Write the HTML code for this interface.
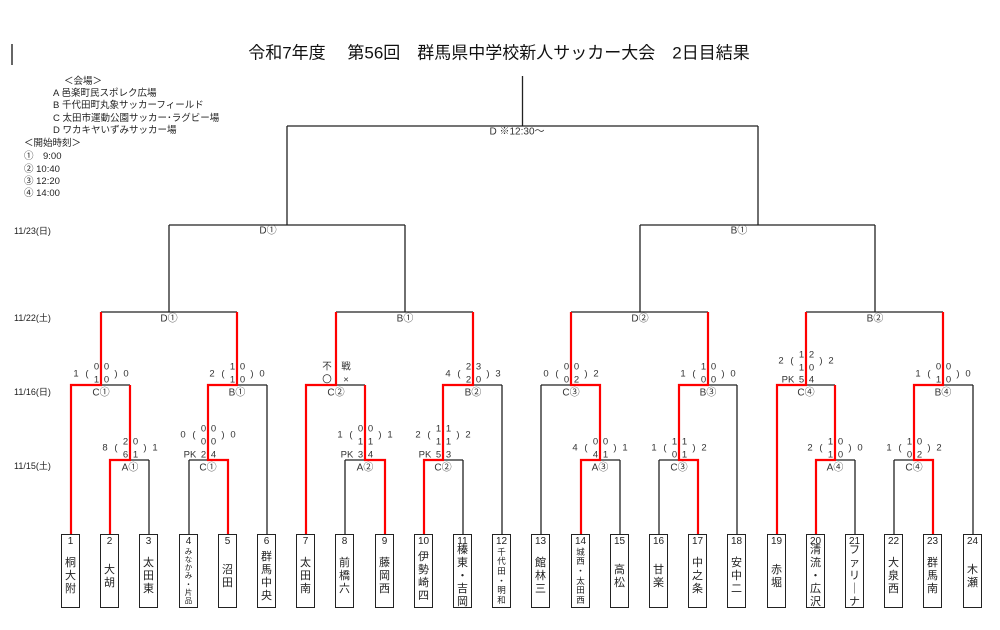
<!DOCTYPE html>
<html><head><meta charset="utf-8"><style>
body{margin:0;background:#fff;width:1000px;height:630px;position:relative;overflow:hidden;font-family:"Liberation Sans","Noto Sans CJK JP",sans-serif;color:#222}
svg{position:absolute;left:0;top:0}
.t{position:absolute;top:534px;width:19px;height:74px;border:1.3px solid #222;box-sizing:border-box;background:#fff}
.t .n{position:absolute;top:1px;left:0;right:0;text-align:center;font-size:10px;line-height:11px}
.t .m{position:absolute;top:13px;bottom:2px;left:0;right:0;display:flex;flex-direction:column;justify-content:center;align-items:center;font-size:11px;line-height:13px}
.t .m.s{font-size:8.5px;line-height:9.6px}
.t .m.xs{font-size:7.5px;line-height:8.2px}
.lg{position:absolute;font-size:9.5px;line-height:12px;white-space:nowrap}
</style></head><body>
<svg width="1000" height="630" font-family="Liberation Sans, Noto Sans CJK JP, sans-serif" font-size="10" fill="#333" text-anchor="middle" dominant-baseline="central">
<line x1="12" y1="44" x2="12" y2="65" stroke="#333" stroke-width="1.5"/>
<text x="499" y="53" font-size="17" fill="#111">令和7年度　 第56回　群馬県中学校新人サッカー大会　2日目結果</text>
<g font-size="9" fill="#222" text-anchor="start">
<text x="14" y="231">11/23(日)</text>
<text x="14" y="318">11/22(土)</text>
<text x="14" y="392">11/16(日)</text>
<text x="14" y="466">11/15(土)</text>
</g>
<g stroke="#222" stroke-width="1.3" fill="none">
<path d="M522.5 76V126M287 126H758M287 126V225M758 126V225"/>
<path d="M169 225H405M169 225V312M405 225V312M640 225H875M640 225V312M875 225V312"/>
<path d="M101 312H237M336 312H473M571 312H708M806 312H943"/>
<path d="M71 385H130M208 385H267M306 385H365M443 385H502M541 385H600M679 385H737M777 385H835M914 385H973"/>
<path d="M101 312V385M237 312V385M336 312V385M473 312V385M571 312V385M708 312V385M806 312V385M943 312V385"/>
<path d="M110 460H149M189 460H228M345 460H385M424 460H463M581 460H620M659 460H698M816 460H855M894 460H933"/>
<path d="M130 385V460M208 385V460M365 385V460M443 385V460M600 385V460M679 385V460M835 385V460M914 385V460"/>
<path d="M71 385V534M267 385V534M306 385V534M502 385V534M541 385V534M737 385V534M777 385V534M973 385V534"/>
<path d="M110 460V534M149 460V534M189 460V534M228 460V534M345 460V534M385 460V534M424 460V534M463 460V534M581 460V534M620 460V534M659 460V534M698 460V534M816 460V534M855 460V534M894 460V534M933 460V534"/>
</g>
<g stroke="#ff0000" stroke-width="2.2" fill="none" stroke-linejoin="miter">
<path d="M110 534V460H130V385"/><path d="M228 534V460H208V385H237V312"/><path d="M71 534V385H101V312"/>
<path d="M306 534V385H336V312"/><path d="M385 534V460H365V385"/><path d="M424 534V460H443V385H473V312"/>
<path d="M581 534V460H600V385H571V312"/><path d="M698 534V460H679V385H708V312"/>
<path d="M777 534V385H806V312"/><path d="M816 534V460H835V385"/><path d="M933 534V460H914V385H943V312"/>
</g>
<text x="517" y="132">D ※12:30～</text>
<text x="268" y="231">D①</text><text x="739" y="231">B①</text>
<g>
<text x="169" y="319">D①</text><text x="405" y="319">B①</text><text x="640" y="319">D②</text><text x="875" y="319">B②</text>
<text x="101" y="393">C①</text><text x="237" y="393">B①</text><text x="336" y="393">C②</text><text x="473" y="393">B②</text>
<text x="571" y="393">C③</text><text x="708" y="393">B③</text><text x="806" y="393">C④</text><text x="943" y="393">B④</text>
<text x="130" y="468">A①</text><text x="208" y="468">C①</text><text x="365" y="468">A②</text><text x="443" y="468">C②</text>
<text x="600" y="468">A③</text><text x="679" y="468">C③</text><text x="835" y="468">A④</text><text x="914" y="468">C④</text>
</g>
<g font-size="9.5">
<text x="76" y="374">1</text><text x="87" y="374">(</text><text x="96.5" y="367">0</text><text x="106.5" y="367">0</text><text x="96.5" y="380">1</text><text x="106.5" y="380">0</text><text x="116" y="374">)</text><text x="126" y="374">0</text>
<text x="105" y="448">8</text><text x="116" y="448">(</text><text x="125.5" y="442">2</text><text x="135.5" y="442">0</text><text x="125.5" y="455">6</text><text x="135.5" y="455">1</text><text x="145" y="448">)</text><text x="155" y="448">1</text>
<text x="183" y="435">0</text><text x="194" y="435">(</text><text x="203.5" y="429">0</text><text x="213.5" y="429">0</text><text x="203.5" y="442">0</text><text x="213.5" y="442">0</text><text x="223" y="435">)</text><text x="233" y="435">0</text><text x="190" y="455">PK</text><text x="203.5" y="455">2</text><text x="213.5" y="455">4</text>
<text x="212" y="374">2</text><text x="223" y="374">(</text><text x="232.5" y="367">1</text><text x="242.5" y="367">0</text><text x="232.5" y="380">1</text><text x="242.5" y="380">0</text><text x="252" y="374">)</text><text x="262" y="374">0</text>
<text x="327" y="367">不</text><text x="346" y="367">戦</text><text x="327" y="380">〇</text><text x="346" y="380">×</text>
<text x="340" y="435">1</text><text x="351" y="435">(</text><text x="360.5" y="429">0</text><text x="370.5" y="429">0</text><text x="360.5" y="442">1</text><text x="370.5" y="442">1</text><text x="380" y="435">)</text><text x="390" y="435">1</text><text x="347" y="455">PK</text><text x="360.5" y="455">3</text><text x="370.5" y="455">4</text>
<text x="418" y="435">2</text><text x="429" y="435">(</text><text x="438.5" y="429">1</text><text x="448.5" y="429">1</text><text x="438.5" y="442">1</text><text x="448.5" y="442">1</text><text x="458" y="435">)</text><text x="468" y="435">2</text><text x="425" y="455">PK</text><text x="438.5" y="455">5</text><text x="448.5" y="455">3</text>
<text x="448" y="374">4</text><text x="459" y="374">(</text><text x="468.5" y="367">2</text><text x="478.5" y="367">3</text><text x="468.5" y="380">2</text><text x="478.5" y="380">0</text><text x="488" y="374">)</text><text x="498" y="374">3</text>
<text x="546" y="374">0</text><text x="557" y="374">(</text><text x="566.5" y="367">0</text><text x="576.5" y="367">0</text><text x="566.5" y="380">0</text><text x="576.5" y="380">2</text><text x="586" y="374">)</text><text x="596" y="374">2</text>
<text x="575" y="448">4</text><text x="586" y="448">(</text><text x="595.5" y="442">0</text><text x="605.5" y="442">0</text><text x="595.5" y="455">4</text><text x="605.5" y="455">1</text><text x="615" y="448">)</text><text x="625" y="448">1</text>
<text x="654" y="448">1</text><text x="665" y="448">(</text><text x="674.5" y="442">1</text><text x="684.5" y="442">1</text><text x="674.5" y="455">0</text><text x="684.5" y="455">1</text><text x="694" y="448">)</text><text x="704" y="448">2</text>
<text x="683" y="374">1</text><text x="694" y="374">(</text><text x="703.5" y="367">1</text><text x="713.5" y="367">0</text><text x="703.5" y="380">0</text><text x="713.5" y="380">0</text><text x="723" y="374">)</text><text x="733" y="374">0</text>
<text x="781" y="361">2</text><text x="792" y="361">(</text><text x="801.5" y="355">1</text><text x="811.5" y="355">2</text><text x="801.5" y="368">1</text><text x="811.5" y="368">0</text><text x="821" y="361">)</text><text x="831" y="361">2</text><text x="788" y="380">PK</text><text x="801.5" y="380">5</text><text x="811.5" y="380">4</text>
<text x="810" y="448">2</text><text x="821" y="448">(</text><text x="830.5" y="442">1</text><text x="840.5" y="442">0</text><text x="830.5" y="455">1</text><text x="840.5" y="455">0</text><text x="850" y="448">)</text><text x="860" y="448">0</text>
<text x="889" y="448">1</text><text x="900" y="448">(</text><text x="909.5" y="442">1</text><text x="919.5" y="442">0</text><text x="909.5" y="455">0</text><text x="919.5" y="455">2</text><text x="929" y="448">)</text><text x="939" y="448">2</text>
<text x="918" y="374">1</text><text x="929" y="374">(</text><text x="938.5" y="367">0</text><text x="948.5" y="367">0</text><text x="938.5" y="380">1</text><text x="948.5" y="380">0</text><text x="958" y="374">)</text><text x="968" y="374">0</text>
</g>
</svg>
<div class="lg" style="left:64px;top:76px">＜会場＞</div>
<div class="lg" style="left:53px;top:88px">A 邑楽町民スポレク広場</div>
<div class="lg" style="left:53px;top:100px">B 千代田町丸象サッカーフィールド</div>
<div class="lg" style="left:53px;top:113px">C 太田市運動公園サッカー･ラグビー場</div>
<div class="lg" style="left:53px;top:125px">D ワカキヤいずみサッカー場</div>
<div class="lg" style="left:24px;top:138px">＜開始時刻＞</div>
<div class="lg" style="left:24px;top:151px">①　9:00</div>
<div class="lg" style="left:24px;top:164px">②  10:40</div>
<div class="lg" style="left:24px;top:176px">③  12:20</div>
<div class="lg" style="left:24px;top:188px">④  14:00</div>

<div class="t" style="left:61px"><div class="n">1</div><div class="m"><span>桐</span><span>大</span><span>附</span></div></div>
<div class="t" style="left:100px"><div class="n">2</div><div class="m"><span>大</span><span>胡</span></div></div>
<div class="t" style="left:139px"><div class="n">3</div><div class="m"><span>太</span><span>田</span><span>東</span></div></div>
<div class="t" style="left:179px"><div class="n">4</div><div class="m xs"><span>み</span><span>な</span><span>か</span><span>み</span><span>・</span><span>片</span><span>品</span></div></div>
<div class="t" style="left:218px"><div class="n">5</div><div class="m"><span>沼</span><span>田</span></div></div>
<div class="t" style="left:257px"><div class="n">6</div><div class="m"><span>群</span><span>馬</span><span>中</span><span>央</span></div></div>
<div class="t" style="left:296px"><div class="n">7</div><div class="m"><span>太</span><span>田</span><span>南</span></div></div>
<div class="t" style="left:335px"><div class="n">8</div><div class="m"><span>前</span><span>橋</span><span>六</span></div></div>
<div class="t" style="left:375px"><div class="n">9</div><div class="m"><span>藤</span><span>岡</span><span>西</span></div></div>
<div class="t" style="left:414px"><div class="n">10</div><div class="m"><span>伊</span><span>勢</span><span>崎</span><span>四</span></div></div>
<div class="t" style="left:453px"><div class="n">11</div><div class="m"><span>榛</span><span>東</span><span>・</span><span>吉</span><span>岡</span></div></div>
<div class="t" style="left:492px"><div class="n">12</div><div class="m s"><span>千</span><span>代</span><span>田</span><span>・</span><span>明</span><span>和</span></div></div>
<div class="t" style="left:531px"><div class="n">13</div><div class="m"><span>館</span><span>林</span><span>三</span></div></div>
<div class="t" style="left:571px"><div class="n">14</div><div class="m s"><span>城</span><span>西</span><span>・</span><span>太</span><span>田</span><span>西</span></div></div>
<div class="t" style="left:610px"><div class="n">15</div><div class="m"><span>高</span><span>松</span></div></div>
<div class="t" style="left:649px"><div class="n">16</div><div class="m"><span>甘</span><span>楽</span></div></div>
<div class="t" style="left:688px"><div class="n">17</div><div class="m"><span>中</span><span>之</span><span>条</span></div></div>
<div class="t" style="left:727px"><div class="n">18</div><div class="m"><span>安</span><span>中</span><span>二</span></div></div>
<div class="t" style="left:767px"><div class="n">19</div><div class="m"><span>赤</span><span>堀</span></div></div>
<div class="t" style="left:806px"><div class="n">20</div><div class="m"><span>清</span><span>流</span><span>・</span><span>広</span><span>沢</span></div></div>
<div class="t" style="left:845px"><div class="n">21</div><div class="m"><span>フ</span><span>ァ</span><span>リ</span><span>｜</span><span>ナ</span></div></div>
<div class="t" style="left:884px"><div class="n">22</div><div class="m"><span>大</span><span>泉</span><span>西</span></div></div>
<div class="t" style="left:923px"><div class="n">23</div><div class="m"><span>群</span><span>馬</span><span>南</span></div></div>
<div class="t" style="left:963px"><div class="n">24</div><div class="m"><span>木</span><span>瀬</span></div></div>
</body></html>
